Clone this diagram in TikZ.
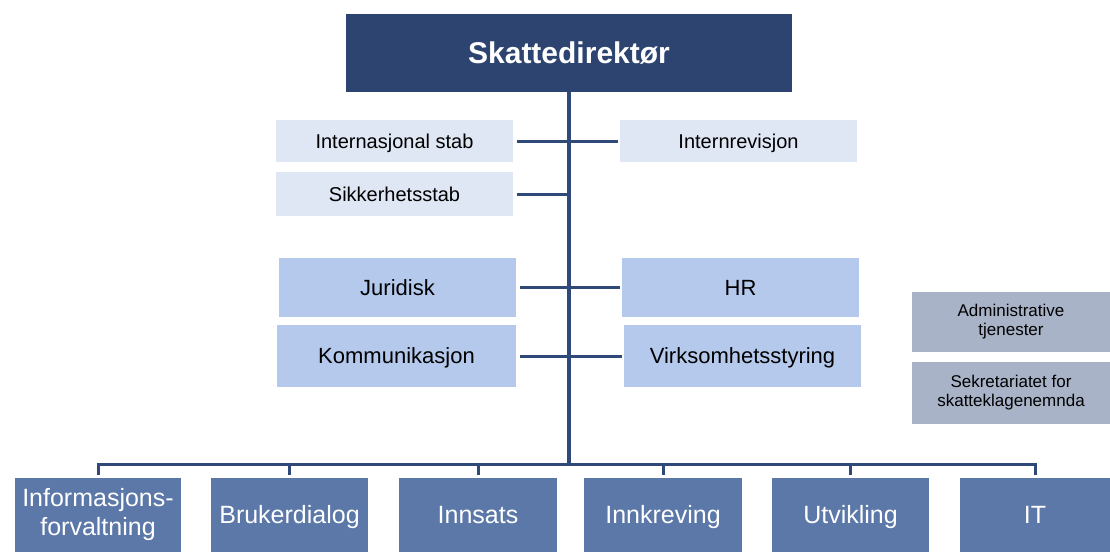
\documentclass[tikz,border=0pt]{standalone}
\usepackage{fontspec}
\setmainfont{Liberation Sans}
\definecolor{navy}{HTML}{2D4470}
\definecolor{linec}{HTML}{2F4A78}
\definecolor{paleblue}{HTML}{E0E7F4}
\definecolor{midblue}{HTML}{B4C9EC}
\definecolor{greyblue}{HTML}{A8B3C7}
\definecolor{unitblue}{HTML}{5B78A8}
\begin{document}
\begin{tikzpicture}[x=1pt,y=-1pt,
  box/.style={anchor=north west, inner sep=0pt, outer sep=0pt, align=center, draw=none},
  capc/.style={text height=#1, text depth=0pt},
  topbox/.style={box, capc=21.5pt, fill=navy, text=white, font=\fontsize{30}{34}\selectfont\bfseries},
  stabbox/.style={box, capc=14.3pt, fill=paleblue, text=black, font=\fontsize{20}{23}\selectfont},
  staffbox/.style={box, capc=15.75pt, fill=midblue, text=black, font=\fontsize{22}{25}\selectfont},
  sidebox/.style={box, fill=greyblue, text=black, font=\fontsize{17}{19}\selectfont},
  unitbox/.style={box, fill=unitblue, text=white, font=\fontsize{25}{29}\selectfont},
  conn/.style={draw=linec, line width=3pt},
  trunkline/.style={draw=linec, line width=4pt}]
\useasboundingbox (0,0) rectangle (1110,552);

\node[topbox, minimum width=446pt, minimum height=78pt] (top) at (346,14) {Skattedirektør};

\node[stabbox, minimum width=237pt, minimum height=42pt] (int) at (276,120) {Internasjonal stab};
\node[stabbox, minimum width=237pt, minimum height=42pt] (intrev) at (620,120) {Internrevisjon};
\node[stabbox, minimum width=237pt, minimum height=44pt] (sikk) at (276,172) {Sikkerhetsstab};

\node[staffbox, minimum width=237pt, minimum height=59pt] (jur) at (279,258) {Juridisk};
\node[staffbox, minimum width=237pt, minimum height=59pt] (hr) at (622,258) {HR};
\node[staffbox, minimum width=239pt, minimum height=62pt] (komm) at (277,325) {Kommunikasjon};
\node[staffbox, minimum width=237pt, minimum height=62pt] (virk) at (624,325) {Virksomhetsstyring};

\node[sidebox, minimum width=198pt, minimum height=60pt] (adm) at (912,292) {Administrative\\tjenester};
\node[sidebox, minimum width=198pt, minimum height=62pt] (sekr) at (912,362) {Sekretariatet for\\skatteklagenemnda};

\node[unitbox, minimum width=166pt, minimum height=74pt] (u1) at (15,478) {Informasjons-\\forvaltning};
\node[unitbox, capc=17.9pt, minimum width=157pt, minimum height=74pt] (u2) at (211,478) {Brukerdialog};
\node[unitbox, capc=17.9pt, minimum width=158pt, minimum height=74pt] (u3) at (399,478) {Innsats};
\node[unitbox, capc=17.9pt, minimum width=158pt, minimum height=74pt] (u4) at (584,478) {Innkreving};
\node[unitbox, capc=17.9pt, minimum width=157pt, minimum height=74pt] (u5) at (772,478) {Utvikling};
\node[unitbox, capc=17.9pt, minimum width=150pt, minimum height=74pt] (u6) at (960,478) {IT};

\coordinate (trunk) at (569,0);
\coordinate (bus) at (569,464);

% trunk
\draw[trunkline] (top.south -| trunk) -- (bus);
% staff connectors
\draw[conn, shorten <=4pt] (int.east) -- (int.east -| trunk);
\draw[conn, shorten <=2pt] (intrev.west) -- (intrev.west -| trunk);
\draw[conn, shorten <=4pt] (sikk.east) -- (sikk.east -| trunk);
\draw[conn, shorten <=4pt] (jur.east) -- (jur.east -| trunk);
\draw[conn, shorten <=2pt] (hr.west) -- (hr.west -| trunk);
\draw[conn, shorten <=4pt] (komm.east) -- (komm.east -| trunk);
\draw[conn, shorten <=2pt] (virk.west) -- (virk.west -| trunk);
% bus
\draw[conn] ([xshift=-1.5pt]u1.north |- bus) -- ([xshift=1.5pt]u6.north |- bus);
\foreach \u in {u1,u2,u3,u4,u5,u6}{
  \draw[conn, shorten <=3pt] (\u.north) -- (\u.north |- bus);
}
\end{tikzpicture}
\end{document}
